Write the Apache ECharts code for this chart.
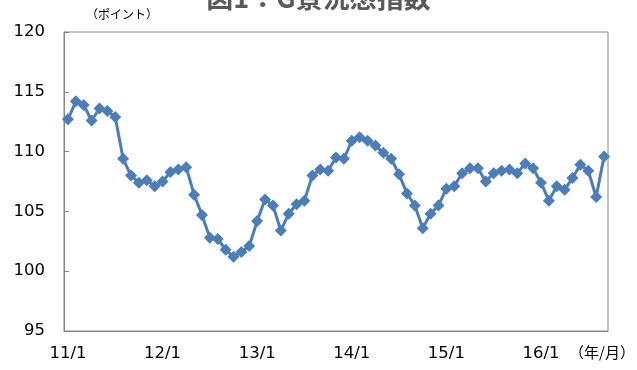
<!DOCTYPE html>
<html><head><meta charset="utf-8">
<script src="https://cdn.jsdelivr.net/npm/echarts@6/dist/echarts.min.js"></script>
<style>html,body{margin:0;padding:0;background:#fff}#c{width:637px;height:370px}</style>
</head><body><div id="c"></div>
<script>
const years = ['11','12','13','14','15','16'];
const monthsInLastYear = 9;
const yTicks = {min: 95, max: 120, step: 5};
const values = [
  112.7, 114.2, 113.9, 112.6, 113.6, 113.4, 112.9, 109.4, 108.0, 107.4, 107.6, 107.1,
  107.5, 108.3, 108.5, 108.7, 106.4, 104.7, 102.8, 102.7, 101.8, 101.2, 101.6, 102.1,
  104.2, 106.0, 105.5, 103.4, 104.8, 105.6, 105.9, 108.0, 108.5, 108.4, 109.5, 109.4,
  110.9, 111.2, 110.9, 110.5, 109.9, 109.4, 108.1, 106.5, 105.5, 103.6, 104.8, 105.5,
  106.9, 107.1, 108.2, 108.6, 108.6, 107.5, 108.2, 108.4, 108.5, 108.2, 109.0, 108.6,
  107.4, 105.9, 107.1, 106.8, 107.8, 108.9, 108.4, 106.2, 109.6
];
const categories = [];
years.forEach((y, yi) => {
  const n = yi === years.length - 1 ? monthsInLastYear : 12;
  for (let m = 1; m <= n; m++) categories.push(y + '/' + m);
});
const titleText = '図1：G景況感指数';
const unitY = '（ポイント）';
const unitX = '（年/月）';

const chart = echarts.init(document.getElementById('c'), null, {renderer: 'canvas'});
const lab = {color: '#000', fontFamily: 'DejaVu Sans', fontSize: 16.5};
chart.setOption({
  animation: false,
  title: {text: titleText, left: 'center', top: -21,
    textStyle: {fontFamily: 'Noto Sans CJK JP', fontWeight: 'bold', fontSize: 27, color: '#595959'}},
  grid: {left: 64, right: 29, top: 32, bottom: 39, show: true, borderColor: '#868686', borderWidth: 1, backgroundColor: 'transparent'},
  xAxis: {
    type: 'category', data: categories, boundaryGap: true,
    axisLine: {lineStyle: {color: '#868686', width: 1}},
    axisTick: {inside: true, interval: 11, length: 5, lineStyle: {color: '#868686'}},
    axisLabel: Object.assign({interval: 11, margin: 14}, lab),
    splitLine: {show: false}
  },
  yAxis: {
    type: 'value', min: yTicks.min, max: yTicks.max, interval: yTicks.step,
    axisLine: {show: true, lineStyle: {color: '#868686', width: 1}},
    axisTick: {show: true, inside: true, length: 5, lineStyle: {color: '#868686'}},
    axisLabel: Object.assign({margin: 19}, lab),
    splitLine: {show: false}
  },
  graphic: [
    {type: 'text', left: 86, top: 8, style: {text: unitY, fontFamily: 'Noto Sans CJK JP', fontSize: 12, fill: '#000'}},
    {type: 'text', left: 569, top: 345, style: {text: unitX, fontFamily: 'Noto Sans CJK JP', fontSize: 15, fill: '#000'}}
  ],
  series: [{
    type: 'line', data: values,
    symbol: 'diamond', symbolSize: 12, showAllSymbol: true,
    lineStyle: {color: '#4A7EBB', width: 3},
    itemStyle: {color: '#4A7EBB'}
  }]
});
</script></body></html>
